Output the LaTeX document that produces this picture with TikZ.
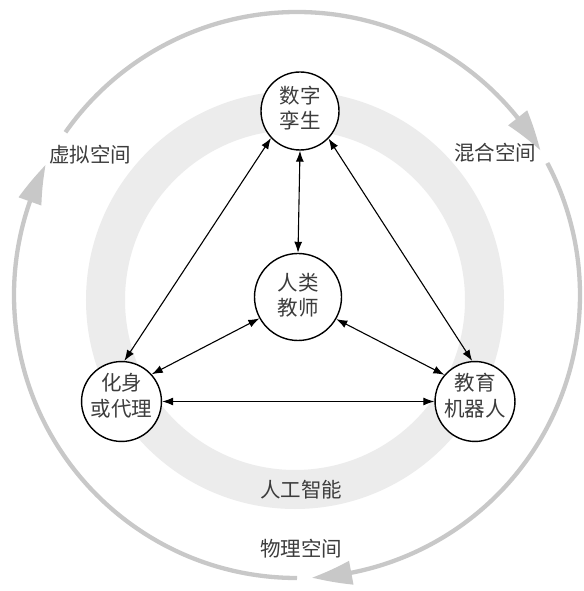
\documentclass[tikz,border=0pt]{standalone}
\usepackage{fontspec}
\newfontfamily\cjk{Noto Sans CJK SC}
\usetikzlibrary{arrows.meta,bending}
\definecolor{ringgray}{RGB}{236,236,236}
\definecolor{arcgray}{RGB}{200,200,200}
\definecolor{txtgray}{RGB}{60,60,60}
\newcommand\twoln[3]{\raisebox{#1}[\height][\depth]{\begin{tabular}{@{}c@{}}#2\\#3\end{tabular}}}
\begin{document}
\begin{tikzpicture}[x=1pt,y=1pt,
  nd/.style={circle,draw=black,line width=1.4pt,fill=white,inner sep=0pt,
    font=\cjk\fontsize{20.5}{25.5}\selectfont,text=txtgray},
  lbl/.style={font=\cjk\fontsize{20.5}{25.5}\selectfont,text=txtgray,inner sep=0pt},
  link/.style={line width=1.1pt,{Latex[length=11pt,width=8pt]}-{Latex[length=11pt,width=8pt]}},
  flow/.style={draw=arcgray,line width=4.3pt,-{Triangle[length=40pt,width=23pt,bend]}}]
\useasboundingbox (0,0) rectangle (583,591);
\fill[white] (0,0) rectangle (583,591);
% AI ring
\draw[ringgray,line width=39pt] (295,291) circle[radius=189.5];
% outer flow circle
\coordinate (oc) at (297,296);
\draw[flow] ([shift={(144.9:283)}]oc) arc[start angle=144.9,end angle=30.7,radius=283];
\draw[flow] ([shift={(27.8:283)}]oc) arc[start angle=27.8,end angle=-87,radius=283];
\draw[flow] ([shift={(270:283)}]oc) arc[start angle=270,end angle=152.6,radius=283];
% nodes
\node[nd,minimum size=78pt] (dt) at (300,480) {\twoln{0pt}{数字}{孪生}};
\node[nd,minimum size=87pt] (ht) at (298,294) {\twoln{-1pt}{人类}{教师}};
\node[nd,minimum size=77pt] (av) at (121.5,189.5) {\twoln{3pt}{化身}{或代理}};
\node[nd,minimum size=77pt] (er) at (475,189.5) {\twoln{3pt}{教育}{机器人}};
% labels
\node[lbl] (vs) at (90,436) {虚拟空间};
\node[lbl] (ms) at (495,438) {混合空间};
\node[lbl] (ai) at (301,101) {人工智能};
\node[lbl] (ps) at (301,42) {物理空间};
% connectors
\draw[link] (dt.223) -- (av.86);
\draw[link] (dt.270) -- (ht.90);
\draw[link] (dt.316) -- (er.94);
\draw[link] (ht.209) -- (av.42);
\draw[link] (ht.330) -- (er.139);
\draw[link] (av.0) -- (er.180);
\end{tikzpicture}
\end{document}
